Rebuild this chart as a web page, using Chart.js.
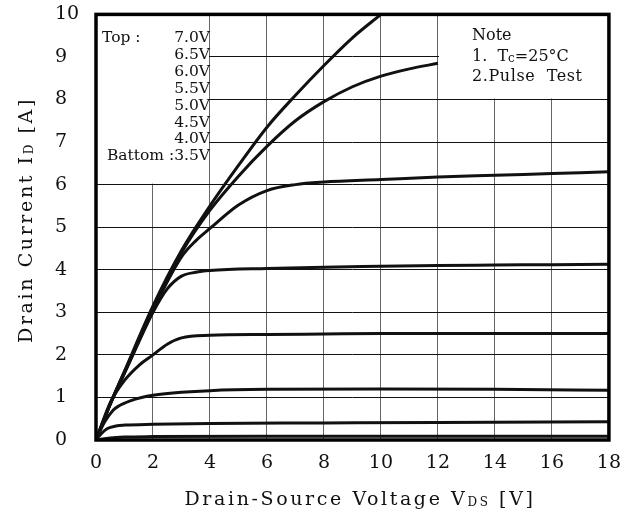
<!DOCTYPE html>
<html>
<head>
<meta charset="utf-8">
<script src="https://cdn.jsdelivr.net/npm/chart.js@4.4.1/dist/chart.umd.min.js"></script>
<style>
  html, body { margin: 0; padding: 0; background: #fff; }
  #wrap { width: 633px; height: 516px; }
</style>
</head>
<body>
<div id="wrap"><canvas id="chart" width="633" height="516"></canvas></div>
<script>
// Valores (Vds en V, Id en A)
const xTicks = [0, 2, 4, 6, 8, 10, 12, 14, 16, 18];
const yTicks = [0, 1, 2, 3, 4, 5, 6, 7, 8, 9, 10];
const gateLabels = ['7.0V', '6.5V', '6.0V', '5.5V', '5.0V', '4.5V', '4.0V', '3.5V'];

const vds70 = [0, 0.5, 1, 2, 3, 4, 5, 6, 7, 8, 9, 10];
const id70  = [0, 0.85, 1.62, 3.15, 4.45, 5.5, 6.45, 7.35, 8.1, 8.8, 9.45, 10];

const vds65 = [0, 0.5, 1, 2, 3, 4, 5, 6, 7, 8, 9, 10, 11, 12];
const id65  = [0, 0.85, 1.6, 3.1, 4.4, 5.4, 6.2, 6.9, 7.5, 7.95, 8.3, 8.55, 8.72, 8.85];

const vds60 = [0, 0.5, 1, 2, 3, 3.5, 4, 5, 6, 7, 8, 10, 12, 14, 16, 18];
const id60  = [0, 0.84, 1.58, 3.05, 4.3, 4.68, 4.97, 5.52, 5.86, 6.0, 6.06, 6.12, 6.18, 6.22, 6.26, 6.3];

const vds55 = [0, 0.5, 1, 1.5, 2, 2.5, 3, 3.5, 4, 6, 8, 10, 12, 14, 16, 18];
const id55  = [0, 0.84, 1.57, 2.3, 3.0, 3.55, 3.85, 3.94, 3.98, 4.03, 4.06, 4.08, 4.1, 4.11, 4.12, 4.13];

const vds50 = [0, 0.5, 1, 1.5, 2, 2.5, 3, 4, 6, 8, 10, 14, 18];
const id50  = [0, 0.88, 1.4, 1.75, 2.0, 2.25, 2.4, 2.46, 2.48, 2.49, 2.5, 2.5, 2.5];

const vds45 = [0, 0.3, 0.6, 0.8, 1.2, 1.6, 2, 3, 4, 6, 10, 14, 18];
const id45  = [0, 0.42, 0.7, 0.8, 0.92, 1.0, 1.05, 1.12, 1.16, 1.19, 1.2, 1.19, 1.17];

const vds40 = [0, 0.2, 0.4, 0.7, 1, 2, 4, 8, 12, 18];
const id40  = [0, 0.16, 0.27, 0.33, 0.35, 0.37, 0.39, 0.4, 0.41, 0.43];

const vds35 = [0, 0.5, 1, 2, 6, 12, 18];
const id35  = [0, 0.05, 0.07, 0.08, 0.09, 0.09, 0.09];

const curves = [
    [vds70, id70], [vds65, id65], [vds60, id60], [vds55, id55],
    [vds50, id50], [vds45, id45], [vds40, id40], [vds35, id35]
];

const FONT = '"DejaVu Serif", serif';

// Dibuja texto con partes de distinto tamaño (subíndices)
function drawRuns(ctx, runs, x, y, align, spacing) {
    ctx.letterSpacing = spacing + 'px';
    let total = 0;
    runs.forEach(r => {
        ctx.font = r[1] + 'px ' + FONT;
        r.w = ctx.measureText(r[0]).width;
        total += r.w;
    });
    let cx = align === 'center' ? x - total / 2 : (align === 'right' ? x - total : x);
    ctx.textAlign = 'left';
    ctx.textBaseline = 'alphabetic';
    runs.forEach(r => {
        ctx.font = r[1] + 'px ' + FONT;
        ctx.fillText(r[0], cx, y + (r[2] || 0));
        cx += r.w;
    });
    ctx.letterSpacing = '0px';
}

const decorPlugin = {
    id: 'decor',
    beforeDatasetsDraw(chart) {
        const ctx = chart.ctx;
        const xs = chart.scales.x, ys = chart.scales.y;
        ctx.save();
        ctx.fillStyle = '#fff';
        // recuadro de la leyenda (0..4 V, 6..10 A)
        ctx.fillRect(xs.getPixelForValue(0) + 1, ys.getPixelForValue(10) + 1,
            xs.getPixelForValue(4) - xs.getPixelForValue(0) - 2, ys.getPixelForValue(6) - ys.getPixelForValue(10) - 2);
        // recuadro de la nota (12..18 V, 8..10 A)
        ctx.fillRect(xs.getPixelForValue(12) + 1, ys.getPixelForValue(10) + 1,
            xs.getPixelForValue(18) - xs.getPixelForValue(12) - 2, ys.getPixelForValue(8) - ys.getPixelForValue(10) - 2);
        ctx.restore();
    },
    afterDatasetsDraw(chart) {
        const ctx = chart.ctx;
        const a = chart.chartArea;
        ctx.save();
        ctx.strokeStyle = '#000';
        ctx.lineWidth = 3.5;
        ctx.strokeRect(a.left, a.top, a.right - a.left, a.bottom - a.top);

        ctx.fillStyle = '#111';
        // leyenda de tensiones de puerta
        const lh = 16.9;
        const last = gateLabels.length - 1;
        ctx.font = '15.5px ' + FONT;
        ctx.textAlign = 'left';
        ctx.fillText('Top :', 102, 42);
        ctx.textAlign = 'right';
        gateLabels.forEach((g, i) => {
            const txt = i === last ? 'Battom :' + g : g;
            ctx.fillText(txt, 210, 42 + lh * i);
        });

        // nota
        drawRuns(ctx, [['Note', 16]], 472, 40, 'left', 0);
        drawRuns(ctx, [['1.  T', 16], ['c', 12, 1], ['=25°C', 16]], 472, 61, 'left', 0);
        drawRuns(ctx, [['2.Pulse  Test', 16]], 472, 81, 'left', 0.6);

        // títulos de ejes
        drawRuns(ctx, [['Drain-Source Voltage V', 19], ['DS', 12, 1], [' [V]', 19]], 360, 505, 'center', 2.6);
        ctx.translate(32, 220);
        ctx.rotate(-Math.PI / 2);
        drawRuns(ctx, [['Drain Current I', 19], ['D', 12, 1], [' [A]', 19]], 0, 0, 'center', 2.6);
        ctx.restore();
    }
};

const ctx = document.getElementById('chart').getContext('2d');
new Chart(ctx, {
    type: 'scatter',
    data: {
        datasets: curves.map((c, i) => ({
            label: gateLabels[i],
            data: c[0].map((v, j) => ({ x: v, y: c[1][j] })),
            showLine: true,
            borderColor: '#111',
            borderWidth: 3,
            pointRadius: 0,
            cubicInterpolationMode: 'monotone'
        }))
    },
    options: {
        responsive: false,
        animation: false,
        devicePixelRatio: 1,
        layout: { padding: { left: 55, top: 12, right: 21, bottom: 0 } },
        plugins: { legend: { display: false }, tooltip: { enabled: false } },
        scales: {
            x: {
                type: 'linear', min: 0, max: 18,
                afterBuildTicks: s => { s.ticks = xTicks.map(v => ({ value: v })); },
                afterFit: s => { s.height = 76; },
                grid: { color: '#666', lineWidth: 1, drawTicks: false },
                border: { display: false },
                ticks: { color: '#111', font: { family: FONT, size: 19 }, padding: 12, maxRotation: 0 }
            },
            y: {
                type: 'linear', min: 0, max: 10,
                afterBuildTicks: s => { s.ticks = yTicks.map(v => ({ value: v })); },
                afterFit: s => { s.width = 41; },
                grid: { color: '#111', lineWidth: 1, drawTicks: false },
                border: { display: false },
                ticks: { color: '#111', font: { family: FONT, size: 19 }, crossAlign: 'far' }
            }
        }
    },
    plugins: [decorPlugin]
});
</script>
</body>
</html>
